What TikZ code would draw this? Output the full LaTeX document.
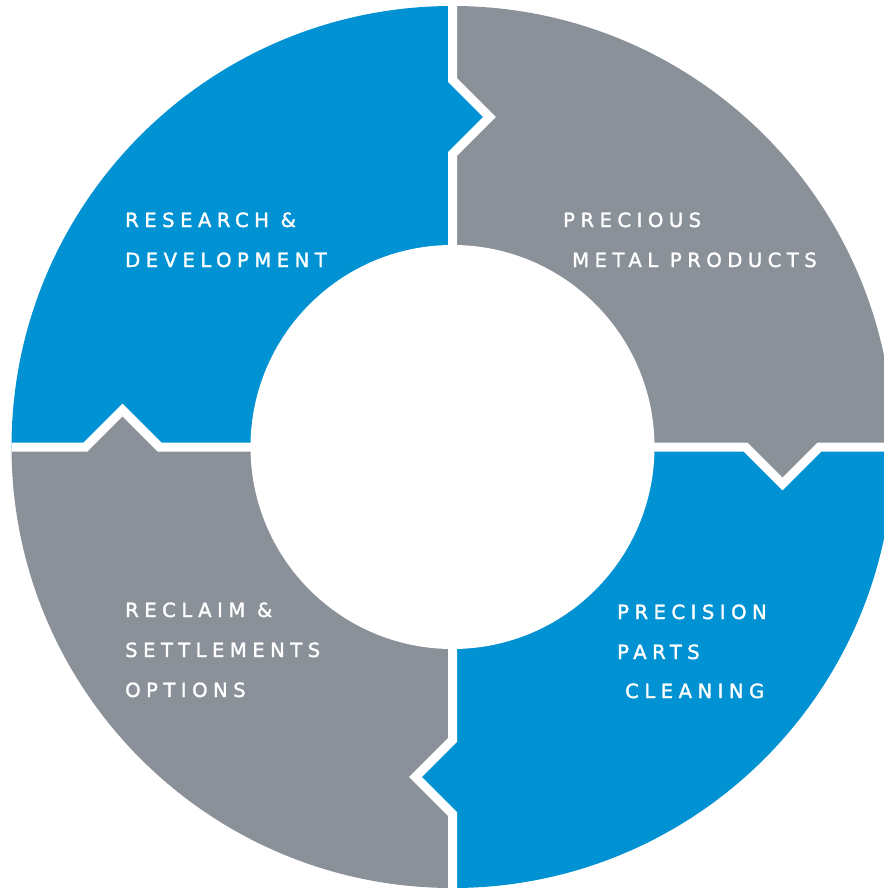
\documentclass[tikz,border=0pt]{standalone}
\usepackage{fontspec}
\setmainfont{DejaVu Sans}
\newfontfamily\labelfont[LetterSpace=28, FakeBold=1.6]{DejaVu Sans}
\definecolor{ringblue}{RGB}{0,146,210}
\definecolor{ringgray}{RGB}{139,145,153}
\tikzset{
  lbl/.style={anchor=base west, inner sep=0pt, text=white, font=\labelfont\fontsize{19.6}{24}\selectfont},
  gapline/.style={white, line width=9pt, line join=miter}
}
\begin{document}
\begin{tikzpicture}[x=1pt,y=-1pt]
\useasboundingbox (0,0) rectangle (883,888);
\coordinate (c) at (452.5,447);
% notch points
\coordinate (t1) at (452.5,154); \coordinate (t2) at (489.5,117); \coordinate (t3) at (452.5,80); \coordinate (t4) at (452.5,-30);
\coordinate (r1) at (745.5,447); \coordinate (r2) at (782.5,484); \coordinate (r3) at (819.5,447); \coordinate (r4) at (930,447);
\coordinate (b1) at (452.5,740); \coordinate (b2) at (415.5,777); \coordinate (b3) at (452.5,814); \coordinate (b4) at (452.5,930);
\coordinate (l1) at (159.5,447); \coordinate (l2) at (122.5,410); \coordinate (l3) at (85.5,447); \coordinate (l4) at (-30,447);
\begin{scope}
  \clip (c) circle (441pt);
  \fill[ringblue] (c) -- (t1) -- (t2) -- (t3) -- (t4) -- (-30,-30) -- (l4) -- (l3) -- (l2) -- (l1) -- cycle;
  \fill[ringgray] (c) -- (t1) -- (t2) -- (t3) -- (t4) -- (930,-30) -- (r4) -- (r3) -- (r2) -- (r1) -- cycle;
  \fill[ringblue] (c) -- (r1) -- (r2) -- (r3) -- (r4) -- (930,930) -- (b4) -- (b3) -- (b2) -- (b1) -- cycle;
  \fill[ringgray] (c) -- (b1) -- (b2) -- (b3) -- (b4) -- (-30,930) -- (l4) -- (l3) -- (l2) -- (l1) -- cycle;
  \draw[gapline] (c) -- (t1) -- (t2) -- (t3) -- (t4);
  \draw[gapline] (c) -- (r1) -- (r2) -- (r3) -- (r4);
  \draw[gapline] (c) -- (b1) -- (b2) -- (b3) -- (b4);
  \draw[gapline] (c) -- (l1) -- (l2) -- (l3) -- (l4);
  \fill[white] (c) circle (202pt);
\end{scope}
\node[lbl] (rd1) at (125,227) {RESEARCH \&};
\node[lbl] (rd2) at (125,267) {DEVELOPMENT};
\node[lbl] (pm1) at (563,227) {PRECIOUS};
\node[lbl] (pm2) at (572,267) {METAL PRODUCTS};
\node[lbl] (rs1) at (125,617) {RECLAIM \&};
\node[lbl] (rs2) at (125,657) {SETTLEMENTS};
\node[lbl] (rs3) at (125,697) {OPTIONS};
\node[lbl] (pc1) at (617,619) {PRECISION};
\node[lbl] (pc2) at (617,659) {PARTS};
\node[lbl] (pc3) at (625,698) {CLEANING};
\end{tikzpicture}
\end{document}
